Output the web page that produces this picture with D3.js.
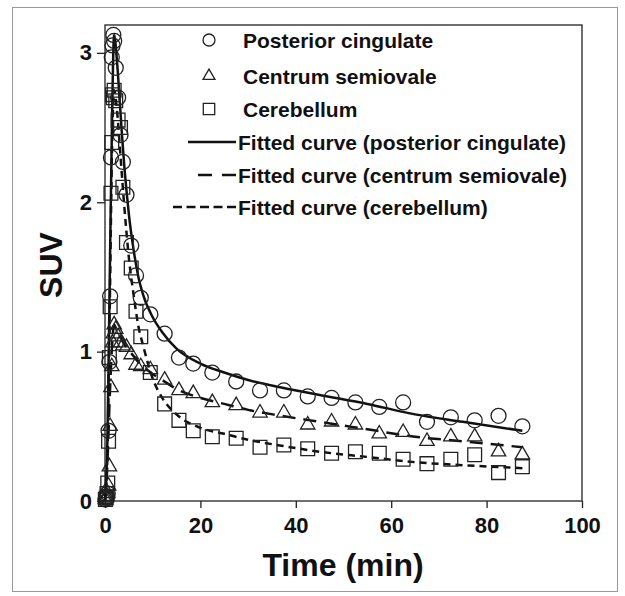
<!DOCTYPE html>
<html>
<head>
<meta charset="utf-8">
<script src="https://cdnjs.cloudflare.com/ajax/libs/d3/7.8.5/d3.min.js"></script>
<style>
body { margin: 0; background: #fff; }
text { font-family: "Liberation Sans", Arial, sans-serif; font-weight: bold; fill: #111; }
</style>
</head>
<body>
<svg id="chart" width="625" height="596"></svg>
<script>
// frame mid times (min)
var times = [0.08, 0.25, 0.42, 0.58, 0.75, 0.92, 1.08, 1.25, 1.42, 1.58, 1.75, 1.92,
	2.25, 2.75, 3.25, 3.75, 4.5, 5.5, 6.5, 7.5, 9.5, 12.5, 15.5, 18.5,
	22.5, 27.5, 32.5, 37.5, 42.5, 47.5, 52.5, 57.5, 62.5, 67.5, 72.5, 77.5, 82.5, 87.5];

var posteriorCingulate = [0.01, 0.02, 0.03, 0.05, 0.47, 0.93, 1.37, 2.30, 2.97, 3.05, 3.12, 3.08,
	2.90, 2.70, 2.45, 2.27, 2.05, 1.71, 1.51, 1.36, 1.25, 1.12, 0.96, 0.92,
	0.86, 0.80, 0.74, 0.74, 0.70, 0.69, 0.66, 0.63, 0.66, 0.53, 0.56, 0.54, 0.57, 0.50];

var centrumSemiovale = [0.01, 0.02, 0.03, 0.05, 0.10, 0.23, 0.50, 0.76, 0.90, 1.06, 1.12, 1.18,
	1.15, 1.10, 1.06, 1.04, 1.03, 0.98, 0.91, 0.90, 0.88, 0.81, 0.74, 0.72,
	0.66, 0.64, 0.59, 0.59, 0.51, 0.53, 0.51, 0.45, 0.46, 0.40, 0.43, 0.43, 0.33, 0.31];

var cerebellum = [0.01, 0.02, 0.05, 0.12, 0.40, 0.96, 1.30, 2.06, 2.40, 2.72, 2.70, 2.75,
	2.68, 2.55, 2.50, 2.10, 1.73, 1.56, 1.27, 1.10, 0.86, 0.65, 0.54, 0.47,
	0.43, 0.42, 0.36, 0.375, 0.35, 0.32, 0.33, 0.32, 0.28, 0.25, 0.28, 0.31, 0.19, 0.23];

// fitted curves
var fitTimes = [0, 0.5, 1, 1.5, 1.9, 2.5, 3, 3.5, 4, 4.5, 5, 6, 7, 8, 10, 12, 15, 20, 25, 30, 37, 45, 55, 65, 75, 87.5];
var fitPC = [0, 0.4, 1.5, 2.6, 3.12, 2.95, 2.72, 2.48, 2.26, 2.08, 1.92, 1.68, 1.50, 1.38, 1.23, 1.13, 1.02, 0.92, 0.86, 0.81, 0.76, 0.71, 0.65, 0.58, 0.53, 0.47];
var fitCS = [0, 0.25, 0.7, 1.05, 1.18, 1.14, 1.11, 1.08, 1.05, 1.03, 1.01, 0.97, 0.93, 0.90, 0.85, 0.81, 0.75, 0.69, 0.65, 0.61, 0.57, 0.53, 0.48, 0.43, 0.40, 0.36];
var fitCB = [0, 0.3, 1.3, 2.4, 2.75, 2.62, 2.42, 2.2, 1.99, 1.8, 1.63, 1.38, 1.17, 1.04, 0.82, 0.69, 0.58, 0.49, 0.45, 0.41, 0.37, 0.33, 0.295, 0.26, 0.24, 0.22];

var xTicks = [0, 20, 40, 60, 80, 100];
var yTicks = [0, 1, 2, 3];

var markerLabels = ["Posterior cingulate", "Centrum semiovale", "Cerebellum"];
var lineLabels = ["Fitted curve (posterior cingulate)", "Fitted curve (centrum semiovale)", "Fitted curve (cerebellum)"];

var s = d3.select("#chart");

var xScale = d3.scaleLinear().domain([0, 100]).range([105, 582]);
var yScale = d3.scaleLinear().domain([0, 3.2]).range([501, 23]);

// outer frame
s.append("rect")
	.attr("x", 12.5).attr("y", 7.5)
	.attr("width", 605).attr("height", 584)
	.attr("fill", "none")
	.attr("stroke", "#999")
	.attr("stroke-width", 1);

// plot box
s.append("rect")
	.attr("x", xScale(0)).attr("y", 25)
	.attr("width", xScale(100) - xScale(0))
	.attr("height", yScale(0) - 25)
	.attr("fill", "none")
	.attr("stroke", "#222")
	.attr("stroke-width", 1.3);

//AXES
var xAxis = d3.axisBottom(xScale).tickValues(xTicks).tickSize(7).tickPadding(9.5);
s.append("g")
	.attr("transform", "translate(0," + yScale(0) + ")")
	.call(xAxis)
	.call(function(g) { g.select(".domain").remove(); })
	.call(function(g) {
		g.selectAll("line").attr("stroke", "#222").attr("stroke-width", 1.3);
		g.selectAll("text").attr("font-size", 22).attr("font-family", null).attr("fill", "#111");
	});

var yAxis = d3.axisLeft(yScale).tickValues(yTicks).tickSize(8).tickPadding(5).tickFormat(d3.format("d"));
s.append("g")
	.attr("transform", "translate(" + xScale(0) + ",0)")
	.call(yAxis)
	.call(function(g) { g.select(".domain").remove(); })
	.call(function(g) {
		g.selectAll("line").attr("stroke", "#222").attr("stroke-width", 1.3);
		g.selectAll("text").attr("font-size", 22).attr("font-family", null).attr("fill", "#111");
	});

// axis titles
s.append("text")
	.attr("x", 343).attr("y", 576)
	.attr("text-anchor", "middle")
	.attr("font-size", 32)
	.text("Time (min)");

s.append("text")
	.attr("transform", "translate(62,265) rotate(-90)")
	.attr("text-anchor", "middle")
	.attr("font-size", 32)
	.text("SUV");

//FITTED CURVES
var fitLine = d3.line()
	.x(function(d) { return xScale(d[0]); })
	.y(function(d) { return yScale(d[1]); })
	.curve(d3.curveMonotoneX);

var fits = [
	{ values: fitPC, dash: null },
	{ values: fitCS, dash: "13,8" },
	{ values: fitCB, dash: "7,5" }
];

s.selectAll(".fit").data(fits).enter()
	.append("path")
	.attr("class", "fit")
	.attr("d", function(d) { return fitLine(d3.zip(fitTimes, d.values)); })
	.attr("fill", "none")
	.attr("stroke", "#111")
	.attr("stroke-width", 2.5)
	.attr("stroke-dasharray", function(d) { return d.dash; });

//MARKERS
var series = [
	{ values: posteriorCingulate, symbol: d3.symbolCircle, size: 177 },
	{ values: centrumSemiovale, symbol: d3.symbolTriangle, size: 90 },
	{ values: cerebellum, symbol: d3.symbolSquare, size: 190 }
];

series.forEach(function(sr) {
	s.append("g").selectAll("path").data(d3.zip(times, sr.values)).enter()
		.append("path")
		.attr("transform", function(d) { return "translate(" + xScale(d[0]) + "," + yScale(d[1]) + ")"; })
		.attr("d", d3.symbol().type(sr.symbol).size(sr.size))
		.attr("fill", "none")
		.attr("stroke", "#222")
		.attr("stroke-width", 1.3);
});

//LEGEND
var rowY = [40, 76, 109, 142, 175, 207];

s.selectAll(".legSym").data(series).enter()
	.append("path")
	.attr("transform", function(d, i) { return "translate(209," + rowY[i] + ")"; })
	.attr("d", function(d, i) { return d3.symbol().type(d.symbol).size([113, 62, 130][i])(); })
	.attr("fill", "none")
	.attr("stroke", "#222")
	.attr("stroke-width", 1.3);

s.selectAll(".legText").data(markerLabels).enter()
	.append("text")
	.attr("x", 243)
	.attr("y", function(d, i) { return rowY[i]; })
	.attr("dy", "0.36em")
	.attr("font-size", 21)
	.text(function(d) { return d; });

var legLines = [
	{ x1: 188, dash: null },
	{ x1: 198, dash: "14,10" },
	{ x1: 173, dash: "9,4.5" }
];

s.selectAll(".legLine").data(legLines).enter()
	.append("line")
	.attr("x1", function(d) { return d.x1; })
	.attr("x2", 236)
	.attr("y1", function(d, i) { return rowY[i + 3]; })
	.attr("y2", function(d, i) { return rowY[i + 3]; })
	.attr("stroke", "#111")
	.attr("stroke-width", 2.5)
	.attr("stroke-dasharray", function(d) { return d.dash; });

s.selectAll(".legText2").data(lineLabels).enter()
	.append("text")
	.attr("x", 238)
	.attr("y", function(d, i) { return rowY[i + 3]; })
	.attr("dy", "0.36em")
	.attr("font-size", 21)
	.text(function(d) { return d; });
</script>
</body>
</html>
